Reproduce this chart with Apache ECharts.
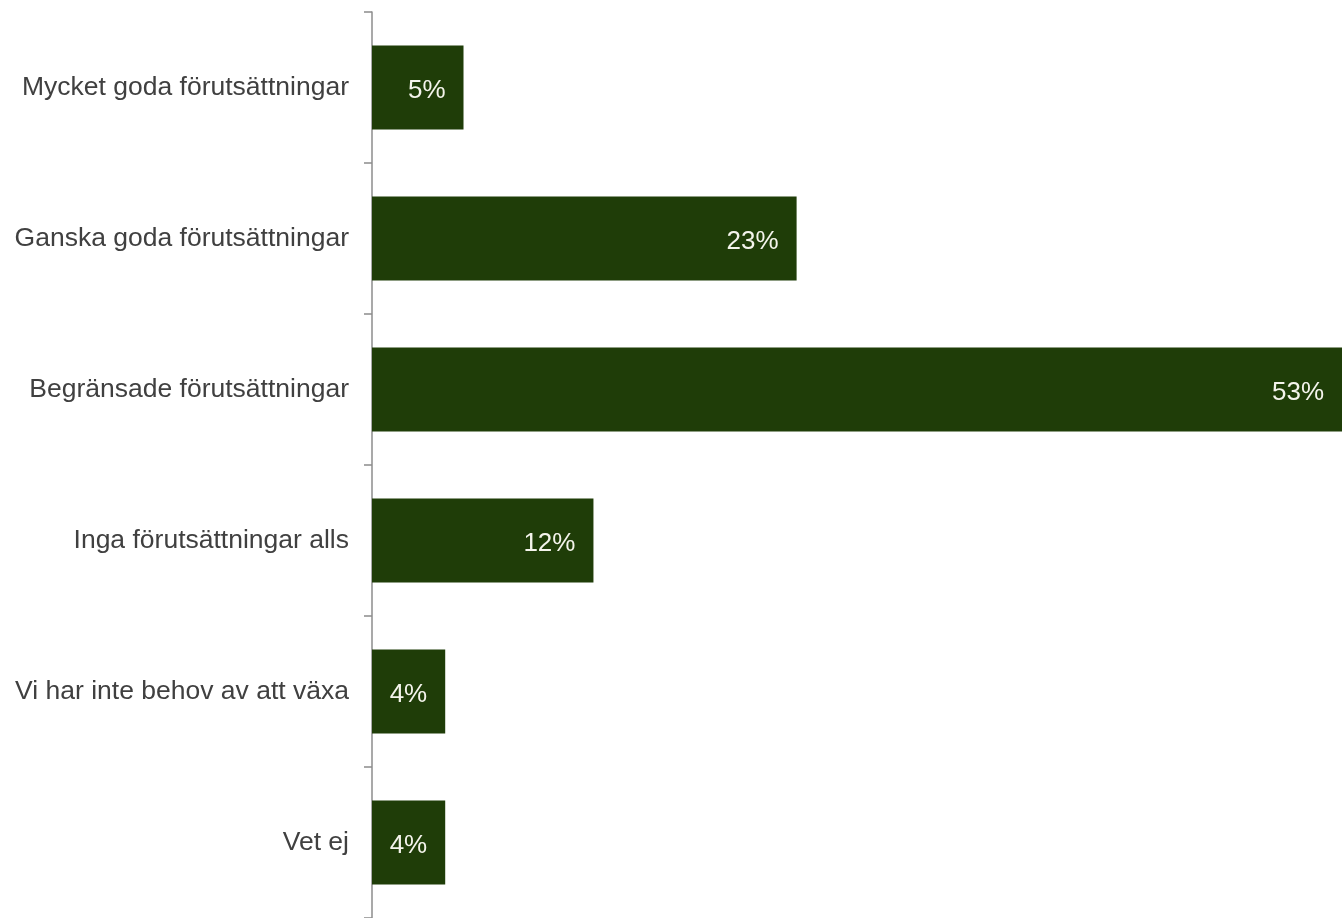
<!DOCTYPE html>
<html>
<head>
<meta charset="utf-8">
<script src="https://cdn.jsdelivr.net/npm/echarts@6/dist/echarts.min.js"></script>
<style>
  html, body { margin: 0; padding: 0; background: #fff; }
  #chart { width: 1342px; height: 918px; }
</style>
</head>
<body>
<div id="chart"></div>
<script>
// kategorier, uppifrån och ner
var categories = [
    'Mycket goda förutsättningar',
    'Ganska goda förutsättningar',
    'Begränsade förutsättningar',
    'Inga förutsättningar alls',
    'Vi har inte behov av att växa',
    'Vet ej'
];
var values = [5, 23.2, 53, 12.1, 4, 4];   // andel i procent

var myChart = echarts.init(document.getElementById('chart'));

var option = {
    animation: false,
    grid: {left: 372, right: 0, top: 12, height: 908},
    xAxis: {
        type: 'value', min: 0, max: 53,
        show: false
    },
    yAxis: {
        type: 'category',
        inverse: true,
        data: categories,
        axisLine: {show: true, lineStyle: {color: '#8c8c8c', width: 1.5}},
        axisTick: {show: true, length: 8, lineStyle: {color: '#8c8c8c', width: 1.5}},
        axisLabel: {
            color: '#404040', fontSize: 26.5, margin: 23,
            padding: [4, 0, 0, 0],
            fontFamily: '"Liberation Sans", Arial, sans-serif'
        }
    },
    series: [{
        type: 'bar',
        data: values,
        barWidth: 84,
        itemStyle: {color: '#1f3d08'},
        label: {
            show: true,
            position: 'insideRight',
            distance: 18,
            offset: [0, 3],
            color: '#f4f4ec',
            fontSize: 26,
            fontFamily: '"Liberation Sans", Arial, sans-serif',
            formatter: function (p) { return Math.round(p.value) + '%'; }
        }
    }]
};
myChart.setOption(option);

window.addEventListener('resize', function () { myChart.resize(); });
</script>
</body>
</html>
